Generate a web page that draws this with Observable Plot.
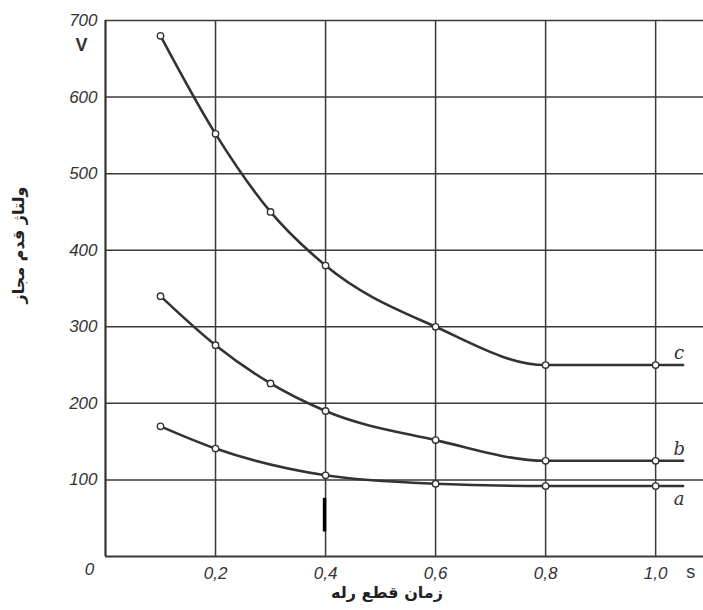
<!DOCTYPE html>
<html>
<head>
<meta charset="utf-8">
<script src="https://cdn.jsdelivr.net/npm/d3@7"></script>
<script src="https://cdn.jsdelivr.net/npm/@observablehq/plot@0.6"></script>
<style>
  html, body { margin: 0; padding: 0; background: #fff; }
  #chart svg { display: block; }
</style>
</head>
<body>
<div id="chart"></div>
<script>
// ---- data ----
const timesC = [0.1, 0.2, 0.3, 0.4, 0.6, 0.8, 1.0];
const valuesC = [680, 552, 450, 380, 300, 250, 250];
const timesB = [0.1, 0.2, 0.3, 0.4, 0.6, 0.8, 1.0];
const valuesB = [340, 276, 226, 190, 152, 125, 125];
const timesA = [0.1, 0.2, 0.4, 0.6, 0.8, 1.0];
const valuesA = [170, 141, 106, 95, 92, 92];
const lineEnd = 1.05;          // curves run on a little past the last point
const xMax = 1.087;            // grid runs to the right edge
const xTicks = [0.2, 0.4, 0.6, 0.8, 1.0];
const xTickLabels = ["0,2", "0,4", "0,6", "0,8", "1,0"];
const yTicks = [100, 200, 300, 400, 500, 600, 700];
const yTickLabels = ["100", "200", "300", "400", "500", "600", "700"];
const yLabel = "ولتاژ قدم مجاز";
const xLabel = "زمان قطع رله";
const markTime = 0.4, markFrom = 32, markTo = 76; // thick black stroke near 0,4

const seriesData = [
  {name: "c", t: timesC, v: valuesC},
  {name: "b", t: timesB, v: valuesB},
  {name: "a", t: timesA, v: valuesA}
];
const points = [];
const linePts = [];
for (const s of seriesData) {
  s.t.forEach((t, i) => {
    points.push({series: s.name, t, v: s.v[i]});
    linePts.push({series: s.name, t, v: s.v[i]});
  });
  linePts.push({series: s.name, t: lineEnd, v: s.v[s.v.length - 1]});
}
const labelOf = name => {
  const s = seriesData.find(d => d.name === name);
  return [{series: name, t: lineEnd, v: s.v[s.v.length - 1]}];
};

const ink = "#333";
const numFont = "Liberation Sans, DejaVu Sans, sans-serif";
const lblStyle = {x: "t", y: "v", text: "series", dx: -4, fontSize: 18, fontStyle: "italic",
  fontFamily: "DejaVu Serif, serif", fill: ink, textAnchor: "middle"};

const chart = Plot.plot({
  width: 703,
  height: 610,
  marginLeft: 105,
  marginRight: 0,
  marginTop: 20,
  marginBottom: 54,
  style: {background: "#fff", overflow: "visible"},
  x: {domain: [0, xMax], axis: null},
  y: {domain: [0, 700], axis: null},
  marks: [
    // horizontal grid
    Plot.ruleY(yTicks, {x1: () => 0, x2: () => xMax, stroke: "#3a3a3a", strokeWidth: 1.5}),
    Plot.ruleY([0], {x1: () => 0, x2: () => xMax, stroke: "#3a3a3a", strokeWidth: 2}),
    // vertical grid
    Plot.ruleX(xTicks, {y1: () => 0, y2: () => 700, stroke: "#3a3a3a", strokeWidth: 1.5}),
    Plot.ruleX([0], {y1: () => 0, y2: () => 700, stroke: "#333", strokeWidth: 2.2}),
    // odd thick mark
    Plot.ruleX([markTime], {y1: () => markFrom, y2: () => markTo, stroke: "#000", strokeWidth: 3.5, dx: -1}),
    // curves
    Plot.line(linePts, {x: "t", y: "v", z: "series", curve: "monotone-x", stroke: ink, strokeWidth: 2.6}),
    Plot.dot(points, {x: "t", y: "v", r: 3.2, fill: "#fff", stroke: ink, strokeWidth: 1.4}),
    // series labels
    Plot.text(labelOf("c"), {...lblStyle, dy: -12}),
    Plot.text(labelOf("b"), {...lblStyle, dy: -12}),
    Plot.text(labelOf("a"), {...lblStyle, dy: 13}),
    // y tick labels
    Plot.text(yTicks, {x: () => 0, y: d => d, text: (d, i) => yTickLabels[i], dx: -8, textAnchor: "end",
      fontSize: 17, fontStyle: "italic", fontFamily: numFont, fill: "#333"}),
    // x tick labels
    Plot.text(xTicks, {x: d => d, y: () => 0, text: (d, i) => xTickLabels[i], dy: 17,
      fontSize: 17, fontStyle: "italic", fontFamily: numFont, fill: "#333"}),
    // corner zero
    Plot.text([0], {x: d => d, y: d => d, text: () => "0", dx: -16, dy: 13,
      fontSize: 17, fontStyle: "italic", fontFamily: numFont, fill: "#333"}),
    // units
    Plot.text(["V"], {x: () => 0, y: () => 700, text: d => d, dx: -24, dy: 25,
      fontSize: 18, fontWeight: "bold", fontFamily: numFont, fill: "#333"}),
    Plot.text(["s"], {x: () => 1.0, y: () => 0, text: d => d, dx: 35, dy: 16,
      fontSize: 18, fontFamily: numFont, fill: "#333"})
  ]
});

// axis titles (Persian)
const svg = d3.select(chart);
svg.append("text")
  .attr("x", 387).attr("y", 598)
  .attr("text-anchor", "middle")
  .attr("direction", "rtl")
  .attr("font-family", "DejaVu Sans, sans-serif")
  .attr("font-size", 16).attr("font-weight", "bold")
  .attr("fill", "#222")
  .text(xLabel);
svg.append("text")
  .attr("transform", "translate(24,245) rotate(-90)")
  .attr("text-anchor", "middle")
  .attr("direction", "rtl")
  .attr("font-family", "DejaVu Sans, sans-serif")
  .attr("font-size", 16).attr("font-weight", "bold")
  .attr("fill", "#222")
  .text(yLabel);

document.getElementById("chart").appendChild(chart);
</script>
</body>
</html>
